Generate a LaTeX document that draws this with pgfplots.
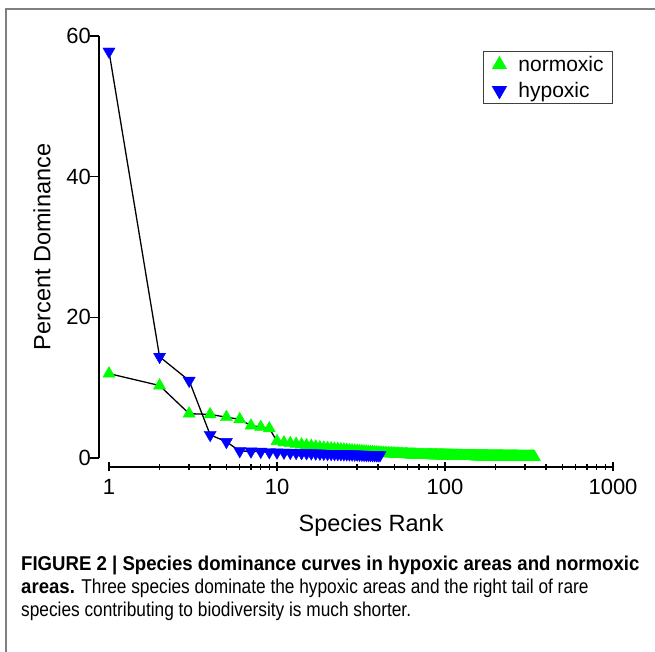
\documentclass[border=0pt]{standalone}
\usepackage{pgfplots}
\usepackage{pgfplotstable}
\pgfplotsset{compat=1.18}
\usepackage{fontspec}
\setmainfont{Liberation Sans}
\newfontfamily\capfont[FakeStretch=0.864, BoldFeatures={FakeStretch=0.93}]{Liberation Sans}

\pgfplotstableread[row sep=\\]{
r v\\
1 12.0\\2 10.3\\3 6.3\\4 6.2\\5 5.8\\6 5.5\\7 4.6\\8 4.4\\9 4.2\\10 2.4\\
11 2.2\\12 2.1\\13 2.0\\14 1.9\\15 1.8\\16 1.7\\17 1.6\\18 1.5\\19 1.45\\20 1.4\\
21 1.35\\22 1.3\\23 1.26\\24 1.22\\25 1.18\\26 1.14\\27 1.1\\28 1.07\\29 1.04\\30 1.01\\
31 0.98\\32 0.95\\33 0.92\\34 0.9\\35 0.87\\36 0.85\\37 0.82\\38 0.8\\39 0.78\\40 0.76\\
41 0.74\\42 0.72\\43 0.7\\44 0.68\\45 0.66\\46 0.65\\47 0.64\\48 0.63\\49 0.62\\50 0.61\\
51 0.6\\52 0.59\\53 0.58\\54 0.57\\55 0.56\\56 0.55\\57 0.54\\58 0.53\\59 0.52\\60 0.51\\
61 0.5\\62 0.49\\63 0.48\\64 0.47\\65 0.46\\66 0.46\\67 0.45\\68 0.45\\
69 0.42\\70 0.42\\71 0.42\\72 0.42\\73 0.42\\74 0.42\\75 0.42\\
76 0.40\\77 0.40\\78 0.40\\79 0.40\\80 0.40\\81 0.40\\82 0.40\\
83 0.38\\84 0.38\\85 0.38\\86 0.38\\87 0.38\\88 0.38\\89 0.38\\
90 0.36\\91 0.36\\92 0.36\\93 0.36\\94 0.36\\95 0.36\\96 0.36\\
97 0.34\\98 0.34\\99 0.34\\100 0.34\\101 0.34\\102 0.34\\103 0.34\\
104 0.32\\105 0.32\\106 0.32\\107 0.32\\108 0.32\\109 0.32\\110 0.32\\
111 0.30\\112 0.30\\113 0.30\\114 0.30\\115 0.30\\116 0.30\\117 0.30\\
118 0.28\\119 0.28\\120 0.28\\121 0.28\\122 0.28\\123 0.28\\124 0.28\\125 0.28\\
126 0.25\\127 0.25\\128 0.25\\129 0.25\\130 0.25\\131 0.25\\132 0.25\\133 0.25\\134 0.25\\135 0.25\\
136 0.25\\137 0.25\\138 0.25\\139 0.25\\140 0.25\\141 0.25\\142 0.25\\143 0.25\\144 0.25\\145 0.25\\
146 0.25\\147 0.25\\148 0.25\\149 0.25\\150 0.25\\
151 0.22\\152 0.22\\153 0.22\\154 0.22\\155 0.22\\156 0.22\\157 0.22\\158 0.22\\159 0.22\\160 0.22\\
161 0.22\\162 0.22\\163 0.22\\164 0.22\\165 0.22\\166 0.22\\167 0.22\\168 0.22\\169 0.22\\170 0.22\\
171 0.22\\172 0.22\\173 0.22\\174 0.22\\175 0.22\\176 0.22\\177 0.22\\178 0.22\\179 0.22\\180 0.22\\
181 0.19\\182 0.19\\183 0.19\\184 0.19\\185 0.19\\186 0.19\\187 0.19\\188 0.19\\189 0.19\\190 0.19\\
191 0.19\\192 0.19\\193 0.19\\194 0.19\\195 0.19\\196 0.19\\197 0.19\\198 0.19\\199 0.19\\200 0.19\\
201 0.19\\202 0.19\\203 0.19\\204 0.19\\205 0.19\\206 0.19\\207 0.19\\208 0.19\\209 0.19\\210 0.19\\
211 0.19\\212 0.19\\213 0.19\\214 0.19\\215 0.19\\216 0.19\\217 0.19\\218 0.19\\219 0.19\\220 0.19\\
221 0.16\\222 0.16\\223 0.16\\224 0.16\\225 0.16\\226 0.16\\227 0.16\\228 0.16\\229 0.16\\230 0.16\\
231 0.16\\232 0.16\\233 0.16\\234 0.16\\235 0.16\\236 0.16\\237 0.16\\238 0.16\\239 0.16\\240 0.16\\
241 0.16\\242 0.16\\243 0.16\\244 0.16\\245 0.16\\246 0.16\\247 0.16\\248 0.16\\249 0.16\\250 0.16\\
251 0.16\\252 0.16\\253 0.16\\254 0.16\\255 0.16\\256 0.16\\257 0.16\\258 0.16\\259 0.16\\260 0.16\\
261 0.16\\262 0.16\\263 0.16\\264 0.16\\265 0.16\\266 0.16\\267 0.16\\268 0.16\\269 0.16\\270 0.16\\
271 0.13\\272 0.13\\273 0.13\\274 0.13\\275 0.13\\276 0.13\\277 0.13\\278 0.13\\279 0.13\\280 0.13\\
281 0.13\\282 0.13\\283 0.13\\284 0.13\\285 0.13\\286 0.13\\287 0.13\\288 0.13\\289 0.13\\290 0.13\\
291 0.13\\292 0.13\\293 0.13\\294 0.13\\295 0.13\\296 0.13\\297 0.13\\298 0.13\\299 0.13\\300 0.13\\
301 0.13\\302 0.13\\303 0.13\\304 0.13\\305 0.13\\306 0.13\\307 0.13\\308 0.13\\309 0.13\\310 0.13\\
311 0.13\\312 0.13\\313 0.13\\314 0.13\\315 0.13\\316 0.13\\317 0.13\\318 0.13\\319 0.13\\320 0.13\\
321 0.13\\322 0.13\\323 0.13\\324 0.13\\325 0.13\\326 0.13\\327 0.13\\328 0.13\\329 0.13\\330 0.13\\
331 0.13\\332 0.13\\333 0.13\\334 0.13\\335 0.13\\336 0.13\\337 0.13\\338 0.13\\339 0.13\\340 0.13\\
}\normtab

\pgfplotstableread[row sep=\\]{
r v\\
1 57.8\\2 14.4\\3 11.0\\4 3.3\\5 2.3\\6 1.0\\7 0.95\\8 0.9\\9 0.85\\10 0.8\\
11 0.78\\12 0.76\\13 0.74\\14 0.72\\15 0.7\\16 0.68\\17 0.66\\18 0.64\\19 0.62\\20 0.6\\
21 0.59\\22 0.58\\23 0.57\\24 0.56\\25 0.55\\26 0.54\\27 0.53\\28 0.52\\29 0.51\\30 0.5\\
31 0.49\\32 0.48\\33 0.47\\34 0.46\\35 0.45\\36 0.44\\37 0.43\\38 0.42\\39 0.41\\40 0.4\\
41 0.4\\
}\hyptab

\begin{document}
\begin{tikzpicture}
\useasboundingbox (0,0) rectangle (655pt,652pt);
\draw[line width=1.2pt, black!50] (6pt,0pt) -- (6pt,643pt) -- (655pt,643pt);
\begin{axis}[
  at={(109pt,194pt)}, anchor=south west,
  scale only axis, width=504pt, height=422pt,
  xmode=log, log basis x=10,
  xmin=1, xmax=1000, ymin=0, ymax=60,
  axis x line*=bottom, axis y line*=left,
  axis x line shift=9pt, axis y line shift=10pt,
  axis line style={line width=1.8pt, black},
  xtick={1,10,100,1000}, xticklabels={1,10,100,1000},
  minor xtick={2,3,4,5,6,7,8,9,20,30,40,50,60,70,80,90,200,300,400,500,600,700,800,900},
  ytick={0,20,40,60}, yticklabels={0,20,40,60},
  tick align=center,
  major tick length=9pt, minor tick length=6pt,
  every tick/.style={black, line width=1.4pt},
  y tick style={xshift=-4.5pt},
  /pgf/number format/assume math mode=true,
  tick label style={font=\fontsize{22}{24}\selectfont},
  x tick label style={yshift=-4pt},
  xlabel={Species Rank}, ylabel={Percent Dominance},
  xlabel style={at={(axis description cs:0.52,-0.159)}, anchor=center, font=\fontsize{23.5}{26}\selectfont},
  ylabel style={at={(axis description cs:-0.133,0.5)}, anchor=center, font=\fontsize{23.5}{26}\selectfont},
  legend style={at={(0.742,0.9645)}, anchor=north west, draw=black!75, line width=0.9pt,
    font=\fontsize{21}{24}\selectfont, inner xsep=6pt, inner ysep=3pt, row sep=5pt,
    cells={anchor=west}, nodes={inner xsep=3pt}},
  legend image code/.code={\path[draw=none,fill=none] (0pt,0pt) (26pt,0pt);
    \draw[mark repeat=2,mark phase=2,mark size=8pt] plot coordinates {(0pt,0pt)(10pt,0pt)(26pt,0pt)};},
  clip=false,
]
\addplot[black, line width=1.3pt, forget plot] table[x=r,y=v] {\normtab};
\addplot[only marks, mark=triangle*, mark size=7pt, mark options={fill=green, draw=green}] table[x=r,y=v] {\normtab};
\addlegendentry{normoxic}
\addplot[black, line width=1.3pt, forget plot] table[x=r,y=v] {\hyptab};
\addplot[only marks, mark=triangle*, mark size=7pt, mark options={fill=blue, draw=blue, rotate=180}] table[x=r,y=v] {\hyptab};
\addlegendentry{hypoxic}
\end{axis}
\node[anchor=north west, inner sep=0pt, align=left, font=\capfont\fontsize{20}{23}\selectfont] at (21pt,96pt)
{\textbf{FIGURE 2 | Species dominance curves in hypoxic areas and normoxic}\\
\textbf{areas.} Three species dominate the hypoxic areas and the right tail of rare\\
species contributing to biodiversity is much shorter.};
\end{tikzpicture}
\end{document}
